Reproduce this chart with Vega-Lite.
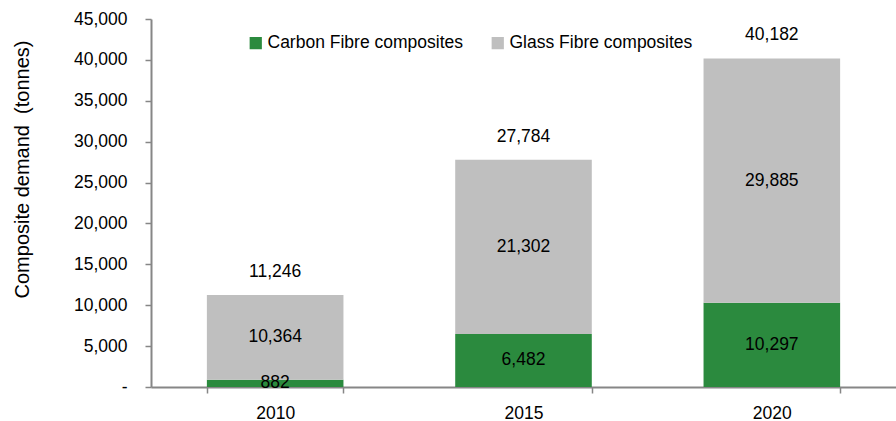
{
  "$schema": "https://vega.github.io/schema/vega-lite/v6.json",
  "autosize": {"type": "none"},
  "width": 745,
  "height": 368,
  "padding": {"left": 151, "top": 19, "right": 0, "bottom": 34},
  "background": "white",
  "config": {
    "view": {"stroke": null},
    "font": "Liberation Sans",
    "text": {"font": "Liberation Sans"}
  },
  "data": {
    "values": [
      {"year": "2010", "type": "Carbon Fibre composites", "value": 882},
      {"year": "2010", "type": "Glass Fibre composites", "value": 10364},
      {"year": "2015", "type": "Carbon Fibre composites", "value": 6482},
      {"year": "2015", "type": "Glass Fibre composites", "value": 21302},
      {"year": "2020", "type": "Carbon Fibre composites", "value": 10297},
      {"year": "2020", "type": "Glass Fibre composites", "value": 29885}
    ]
  },
  "encoding": {
    "x": {
      "field": "year",
      "type": "nominal",
      "scale": {"paddingInner": 0.45, "paddingOuter": 0.225},
      "axis": {
        "title": null,
        "labelAngle": 0,
        "labelFont": "Liberation Sans",
        "labelFontSize": 17.5,
        "labelColor": "#000000",
        "labelPadding": 11,
        "domainColor": "#868686",
        "domainWidth": 2,
        "tickColor": "#868686",
        "tickWidth": 1.5,
        "tickSize": 6,
        "tickBand": "extent",
        "grid": false
      }
    }
  },
  "layer": [
    {
      "mark": {"type": "bar"},
      "encoding": {
        "y": {
          "field": "value",
          "type": "quantitative",
          "stack": "zero",
          "scale": {"domain": [0, 45000], "nice": false},
          "axis": {
            "title": "Composite demand\u00a0\u00a0(tonnes)",
            "titleFont": "Liberation Sans",
            "titleFontSize": 20,
            "titleFontWeight": "normal",
            "titleColor": "#000000",
            "titleX": -129,
            "titleY": 150,
            "titleAngle": -90,
            "titleAlign": "center",
            "titleBaseline": "middle",
            "values": [0, 5000, 10000, 15000, 20000, 25000, 30000, 35000, 40000, 45000],
            "labelExpr": "datum.value == 0 ? '-\u2007' : format(datum.value, ',')",
            "labelFont": "Liberation Sans",
            "labelFontSize": 17.5,
            "labelColor": "#000000",
            "labelPadding": 18,
            "domainColor": "#868686",
            "domainWidth": 2,
            "tickColor": "#868686",
            "tickWidth": 1.5,
            "tickSize": 6,
            "grid": false
          }
        },
        "color": {
          "field": "type",
          "type": "nominal",
          "scale": {
            "domain": ["Carbon Fibre composites", "Glass Fibre composites"],
            "range": ["#2b8a3e", "#bfbfbf"]
          },
          "legend": {
            "title": null,
            "orient": "none",
            "direction": "horizontal",
            "legendX": 96,
            "legendY": 15,
            "symbolType": "square",
            "symbolSize": 150,
            "symbolStrokeWidth": 0,
            "labelFont": "Liberation Sans",
            "labelFontSize": 17.5,
            "labelColor": "#000000",
            "labelOffset": 3,
            "labelLimit": 0,
            "columnPadding": 26
          }
        },
        "order": {"field": "type", "sort": "ascending"}
      }
    },
    {
      "transform": [
        {"stack": "value", "groupby": ["year"], "sort": [{"field": "type", "order": "ascending"}], "as": ["v0", "v1"]},
        {"calculate": "(datum.v0 + datum.v1) / 2", "as": "mid"}
      ],
      "mark": {"type": "text", "font": "Liberation Sans", "fontSize": 17.5, "color": "#000000", "baseline": "middle"},
      "encoding": {
        "y": {"field": "mid", "type": "quantitative"},
        "text": {"field": "value", "type": "quantitative", "format": ","}
      }
    },
    {
      "transform": [
        {"aggregate": [{"op": "sum", "field": "value", "as": "total"}], "groupby": ["year"]}
      ],
      "mark": {"type": "text", "font": "Liberation Sans", "fontSize": 17.5, "color": "#000000", "baseline": "middle", "dy": -23},
      "encoding": {
        "y": {"field": "total", "type": "quantitative"},
        "text": {"field": "total", "type": "quantitative", "format": ","}
      }
    }
  ]
}
